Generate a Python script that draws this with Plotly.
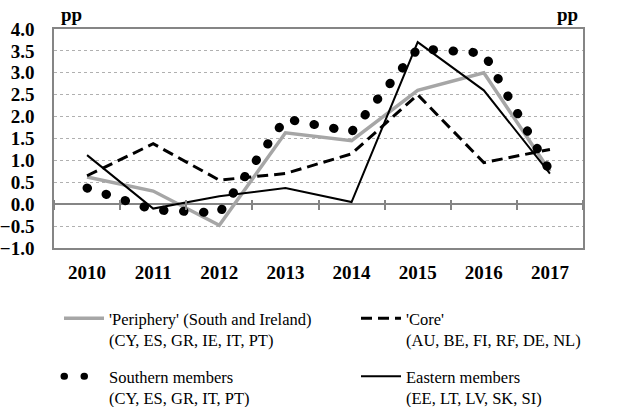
import plotly.graph_objects as go

years = ["2010", "2011", "2012", "2013", "2014", "2015", "2016", "2017"]
periphery = [0.62, 0.30, -0.48, 1.63, 1.45, 2.60, 3.00, 0.75]
core = [0.65, 1.38, 0.55, 0.70, 1.15, 2.50, 0.95, 1.25]
southern = [0.37, -0.13, -0.20, 1.95, 1.65, 3.55, 3.45, 0.75]
eastern = [1.12, -0.10, 0.18, 0.37, 0.05, 3.70, 2.60, 0.70]

names = [
    "'Periphery' (South and Ireland)<br>(CY, ES, GR, IE, IT, PT)",
    "'Core'<br>(AU, BE, FI, RF, DE, NL)",
    "Southern members<br>(CY, ES, GR, IT, PT)",
    "Eastern members<br>(EE, LT, LV, SK, SI)",
]

FONT = "Liberation Serif, Times New Roman, serif"
GRAY = "#a6a6a6"
AX = "#858585"

fig = go.Figure()
fig.add_trace(go.Scatter(x=years, y=periphery, mode="lines", name=names[0],
                         line=dict(color=GRAY, width=3.5), legend="legend"))
fig.add_trace(go.Scatter(x=years, y=core, mode="lines", name=names[1],
                         line=dict(color="black", width=3, dash="11px,6px"), legend="legend2"))
fig.add_trace(go.Scatter(x=years, y=southern, mode="lines", name=names[2], uid="southern",
                         line=dict(color="black", width=9, dash="0.5px,19.5px"), legend="legend3"))
fig.add_trace(go.Scatter(x=years, y=eastern, mode="lines", name=names[3],
                         line=dict(color="black", width=2), legend="legend4"))
# invisible helper trace so the tick axis through zero knows the categories
fig.add_trace(go.Scatter(x=years, y=eastern, xaxis="x2", mode="lines", opacity=0,
                         showlegend=False, hoverinfo="skip", line=dict(width=0.1)))

tickfont = dict(family=FONT, size=19, color="black", weight="bold")

legend_common = dict(orientation="h", xref="container", yref="container",
                     xanchor="left", yanchor="top",
                     valign="top", font=dict(family=FONT, size=16.5, color="black"),
                     bgcolor="rgba(0,0,0,0)", itemwidth=40)

col1, col2 = 59, 356
row1, row2 = 301, 359

fig.update_layout(
    width=630, height=407,
    margin=dict(l=54, r=47, t=29, b=159, autoexpand=False),
    paper_bgcolor="white", plot_bgcolor="white",
    showlegend=True,
    legend=dict(x=col1/630, y=1-row1/407, **legend_common),
    legend2=dict(x=col2/630, y=1-row1/407, **legend_common),
    legend3=dict(x=col1/630, y=1-row2/407, **legend_common),
    legend4=dict(x=col2/630, y=1-row2/407, **legend_common),
    xaxis=dict(type="category", categoryorder="array", categoryarray=years,
               range=[-0.5, 7.5],
               showline=True, mirror=True, linecolor=AX, linewidth=1.5,
               ticks="", showgrid=False, tickfont=tickfont, ticklabelstandoff=6),
    xaxis2=dict(type="category", categoryorder="array", categoryarray=years,
                overlaying="x", matches="x", anchor="free", position=0.2 + 5/219,
                showline=False, showgrid=False, ticks="outside", ticklen=10, tickwidth=1.5,
                tickcolor=AX, tickson="boundaries", showticklabels=False),
    yaxis=dict(range=[-1, 4], dtick=0.5, tick0=0, tickformat=".1f",
               showgrid=True, gridcolor="#b0b0b0", gridwidth=1, griddash="3px,3px",
               zeroline=True, zerolinecolor=AX, zerolinewidth=2,
               showline=True, mirror=True, linecolor=AX, linewidth=1.5,
               ticks="", tickfont=tickfont, ticklabelstandoff=14),
    yaxis2=dict(range=[-1, 4], dtick=0.5, tick0=0, tickformat=".1f", overlaying="y",
                side="right", showgrid=False, zeroline=False, showline=False,
                ticks="", tickfont=tickfont, ticklabelstandoff=14),
    annotations=[
        dict(text="pp", xref="paper", yref="paper", x=(71-54)/529, y=1+14/219,
             xanchor="center", yanchor="middle", showarrow=False, font=tickfont),
        dict(text="pp", xref="paper", yref="paper", x=(567-54)/529, y=1+14/219,
             xanchor="center", yanchor="middle", showarrow=False, font=tickfont),
    ],
)

post = """
document.body.style.margin = '0';
document.body.style.padding = '0';
var gd = document.getElementById('{plot_id}');
function fixDots(){
  gd.querySelectorAll('.tracesouthern path.js-line').forEach(function(el){
    el.style.strokeLinecap = 'round';
  });
  gd.querySelectorAll('g.traces').forEach(function(g){
    if (g.textContent.indexOf('Southern') >= 0) {
      g.querySelectorAll('.legendlines path').forEach(function(el){
        el.style.strokeLinecap = 'round';
        el.style.strokeWidth = '7px';
      });
    }
  });
}
fixDots();
[0, 50, 200, 600, 1200].forEach(function(t){ setTimeout(fixDots, t); });
gd.on('plotly_afterplot', fixDots);
"""

fig.write_html("out.html", post_script=post, config={"displayModeBar": False})
